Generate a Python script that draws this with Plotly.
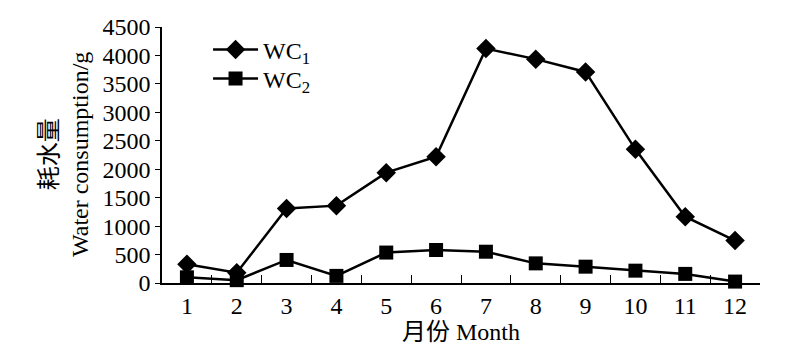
import plotly.graph_objects as go

months = ["1", "2", "3", "4", "5", "6", "7", "8", "9", "10", "11", "12"]
wc1 = [330, 180, 1310, 1360, 1940, 2220, 4120, 3935, 3710, 2350, 1165, 745]
wc2 = [100, 50, 405, 125, 535, 580, 550, 345, 287, 217, 160, 25]
y_ticks = [0, 500, 1000, 1500, 2000, 2500, 3000, 3500, 4000, 4500]

FONT = "Liberation Serif, Times New Roman, Noto Sans CJK SC, serif"
FS = 24

fig = go.Figure()
fig.add_trace(go.Scatter(
    x=months, y=wc1, mode="lines+markers", name="WC<sub>1</sub>",
    line=dict(color="black", width=2.5),
    marker=dict(symbol="diamond", size=15, color="black"),
    cliponaxis=False, legend="legend",
))
fig.add_trace(go.Scatter(
    x=months, y=wc2, mode="lines+markers", name="WC<sub>2</sub>",
    line=dict(color="black", width=2.5),
    marker=dict(symbol="square", size=14, color="black"),
    cliponaxis=False, legend="legend2",
))

# page body adds an 8px offset; figure is sized so the plot lands where the reference has it
PW = 598.0
PH = 256.0
leg_common = dict(xanchor="left", yanchor="middle", bgcolor="rgba(0,0,0,0)",
                  font=dict(size=FS), itemwidth=45)
fig.update_layout(
    width=792, height=350,
    margin=dict(l=154, r=40, t=19, b=75),
    paper_bgcolor="white", plot_bgcolor="white",
    font=dict(family=FONT, size=FS, color="black"),
    showlegend=True,
    legend=dict(x=0.077, y=(283 - 50) / PH, **leg_common),
    legend2=dict(x=0.077, y=(283 - 79) / PH, **leg_common),
)
fig.update_xaxes(
    type="category", tickson="boundaries", ticks="inside", ticklen=8,
    tickcolor="black", tickwidth=1.2, range=[-0.5, 11.5],
    showline=True, linecolor="black", linewidth=1.5,
    showgrid=False, zeroline=False, automargin=False,
)
fig.update_yaxes(
    range=[0, 4500], tickvals=y_ticks, ticks="outside", ticklen=5,
    tickcolor="black", tickwidth=1.2,
    showline=True, linecolor="black", linewidth=1.5,
    showgrid=False, zeroline=False, automargin=False,
)
fig.add_annotation(
    text="耗水量<br>Water consumption/g", xref="paper", yref="paper",
    x=(64 - 162) / PW, y=0.5, xanchor="center", yanchor="middle",
    textangle=-90, showarrow=False, font=dict(size=FS, family=FONT),
)
fig.add_annotation(
    text="月份 Month", xref="paper", yref="paper",
    x=0.5, y=(283 - 332) / PH, xanchor="center", yanchor="middle",
    showarrow=False, font=dict(size=FS, family=FONT),
)
fig.write_html("out.html")
